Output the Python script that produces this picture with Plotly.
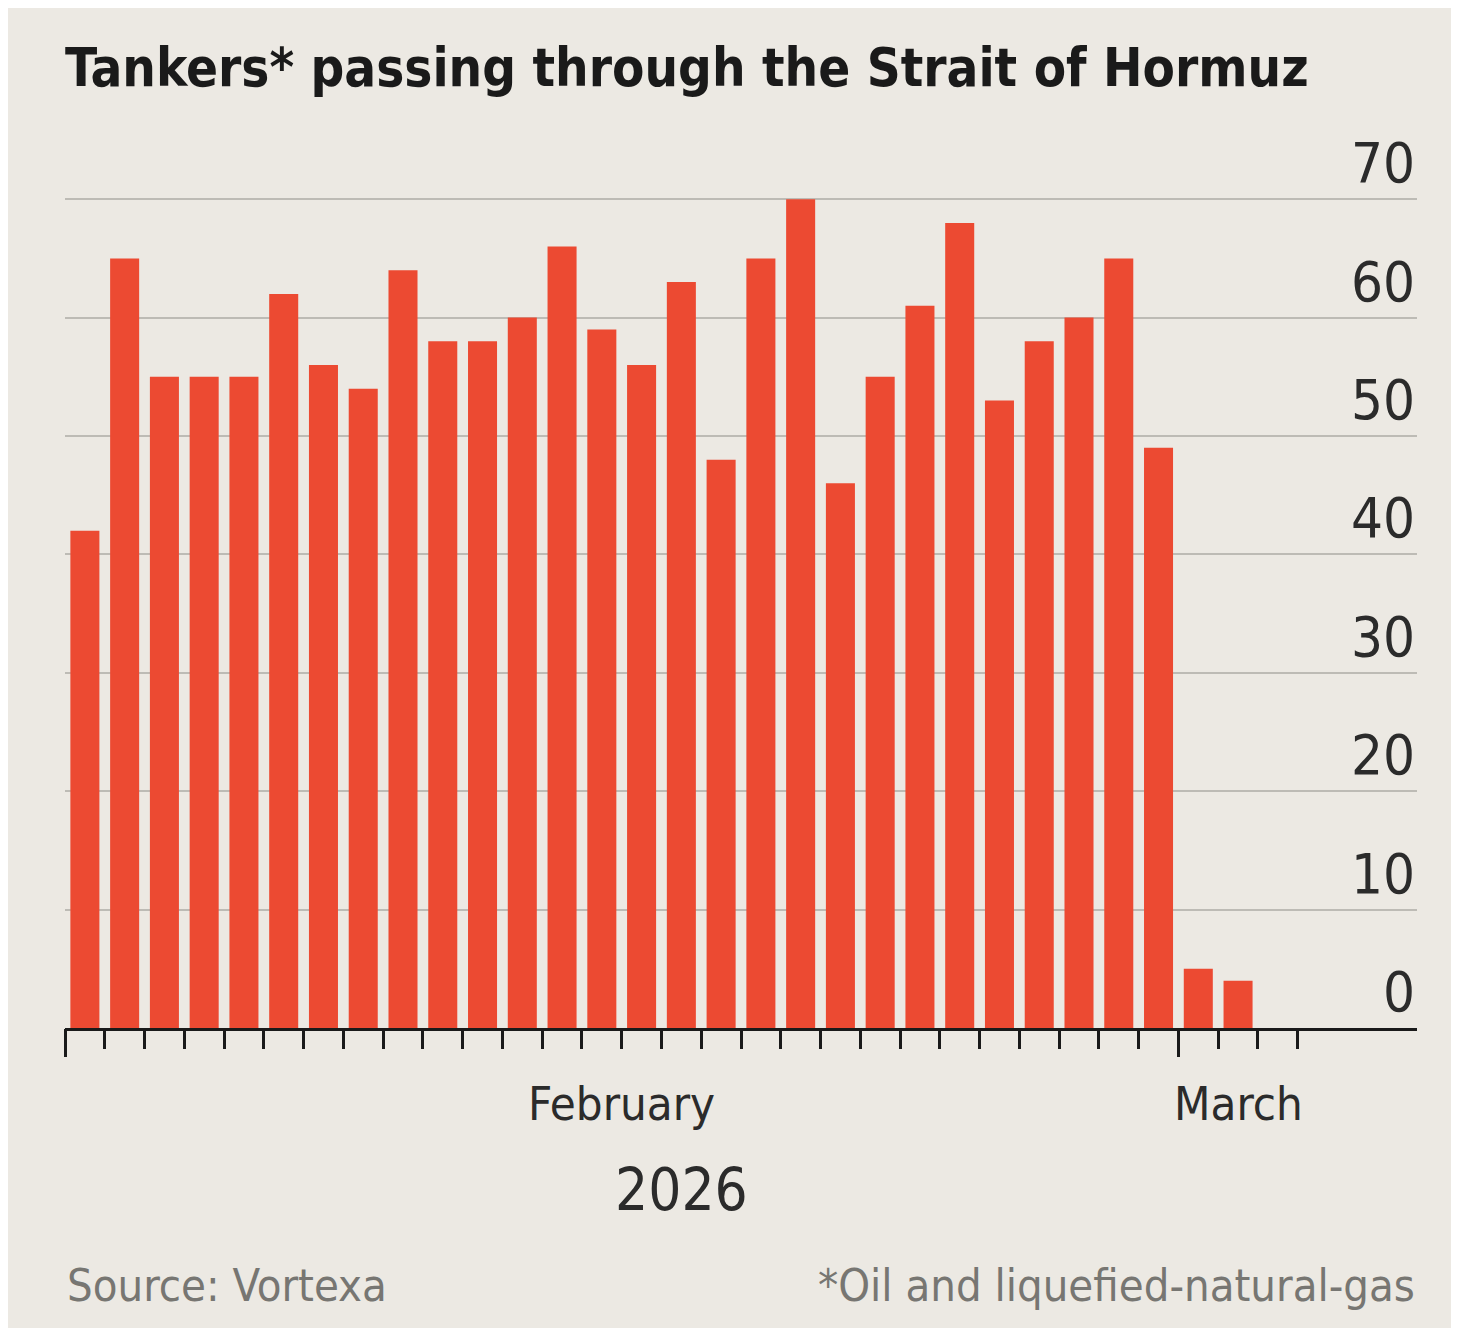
import pandas as pd
import plotly.graph_objects as go

# ============================================
# DANE
# ============================================

start = "2026-02-01"
tankers = [42, 65, 55, 55, 55, 62, 56, 54, 64, 58,
           58, 60, 66, 59, 56, 63, 48, 65, 70, 46,
           55, 61, 68, 53, 58, 60, 65, 49, 5, 4]
y_ticks = [0, 10, 20, 30, 40, 50, 60, 70]

title = "Tankers* passing through the Strait of Hormuz"
source = "Source: Vortexa"
footnote = "*Oil and liquefied-natural-gas"
year_label = "2026"

days = pd.date_range(start, periods=len(tankers), freq="D")
# granice dni (ticki) od 1 lutego do 4 marca
day_edges = pd.date_range(start, periods=len(tankers) + 2, freq="D")
month_starts = [d for d in day_edges if d.day == 1]

FONT = "DejaVu Sans Condensed, Liberation Sans Narrow, Arial Narrow, sans-serif"
BG = "#ECE9E3"
RED = "#EC4A32"
INK = "#1a1a1a"

W, H = 1443, 1320
T_MARGIN, B_MARGIN = 132, 300
plot_h = H - T_MARGIN - B_MARGIN

x_range = [day_edges[0].strftime("%Y-%m-%d"),
           (day_edges[0] + pd.Timedelta(days=34)).strftime("%Y-%m-%d")]

# ============================================
# WYKRES
# ============================================

fig = go.Figure()

fig.add_trace(
    go.Bar(
        x=days,
        y=tankers,
        xperiod=86400000,
        xperiodalignment="middle",
        marker=dict(color=RED, line=dict(width=0)),
        hoverinfo="x+y",
    )
)

# niewidoczny ślad, żeby druga oś (długie ticki miesięcy) się narysowała
fig.add_trace(
    go.Scatter(
        x=month_starts,
        y=[0 for _ in month_starts],
        xaxis="x2",
        mode="markers",
        marker=dict(opacity=0),
        hoverinfo="skip",
    )
)

# krótkie ticki — każdy dzień
fig.update_layout(
    xaxis=dict(
        type="date",
        range=x_range,
        showgrid=False,
        showline=True,
        linecolor=INK,
        linewidth=3,
        tickmode="array",
        tickvals=[d.strftime("%Y-%m-%d") for d in day_edges],
        showticklabels=False,
        ticks="outside",
        ticklen=18,
        tickwidth=3,
        tickcolor=INK,
        zeroline=False,
        fixedrange=True,
    ),
    # długie ticki — początki miesięcy
    xaxis2=dict(
        type="date",
        range=x_range,
        overlaying="x",
        anchor="y",
        side="bottom",
        showgrid=False,
        showline=False,
        tickmode="array",
        tickvals=[d.strftime("%Y-%m-%d") for d in month_starts],
        showticklabels=False,
        ticks="outside",
        ticklen=28,
        tickwidth=3,
        tickcolor=INK,
        zeroline=False,
        fixedrange=True,
    ),
)

fig.update_yaxes(
    range=[0, 75],
    side="right",
    tickvals=y_ticks,
    showticklabels=False,
    showgrid=True,
    gridcolor="#BDBBB5",
    gridwidth=2,
    zeroline=False,
    showline=False,
    ticks="",
    fixedrange=True,
)

# podpisy osi Y nad liniami siatki, wyrównane do prawej
for v in y_ticks:
    fig.add_annotation(
        x=1, y=v, xref="paper", yref="y",
        text=str(v), showarrow=False, xanchor="right", yanchor="bottom",
        yshift=2,
        font=dict(family=FONT, size=56, color="#2b2b2b"),
    )

# etykiety miesięcy wyśrodkowane w swoich okresach
feb_mid = month_starts[0] + (month_starts[1] - month_starts[0]) / 2
mar_mid = month_starts[1] + (day_edges[-1] - month_starts[1]) / 2
year_mid = day_edges[0] + (day_edges[-1] - day_edges[0]) / 2


def below(px):
    return -px / plot_h


for txt, xpos in [("February", feb_mid), ("March", mar_mid)]:
    fig.add_annotation(
        x=xpos, y=below(75), xref="x", yref="paper",
        text=txt, showarrow=False, yanchor="middle", xanchor="center",
        font=dict(family=FONT, size=47, color="#2b2b2b"),
    )

fig.add_annotation(
    x=year_mid, y=below(162), xref="x", yref="paper",
    text=year_label, showarrow=False, yanchor="middle", xanchor="center",
    font=dict(family=FONT, size=58, color="#2b2b2b"),
)

fig.add_annotation(
    x=0, y=below(257), xref="paper", yref="paper",
    text=source, showarrow=False, yanchor="middle", xanchor="left",
    font=dict(family=FONT, size=45, color="#777672"),
)

fig.add_annotation(
    x=1, y=below(257), xref="paper", yref="paper",
    text=footnote, showarrow=False, yanchor="middle", xanchor="right",
    font=dict(family=FONT, size=45, color="#777672"),
)

fig.update_layout(
    width=W,
    height=H,
    margin=dict(l=57, r=34, t=T_MARGIN, b=B_MARGIN),
    paper_bgcolor=BG,
    plot_bgcolor=BG,
    bargap=0.27,
    showlegend=False,
    title=dict(
        text=f"<b>{title}</b>",
        x=57 / W,
        xanchor="left",
        xref="container",
        y=1 - 60 / H,
        yanchor="middle",
        yref="container",
        font=dict(family=FONT, size=52.5, color=INK),
    ),
)

fig.write_html("out.html")
